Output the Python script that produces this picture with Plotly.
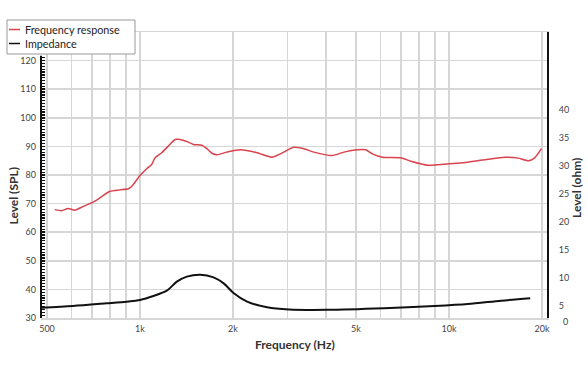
import plotly.graph_objects as go

# ---- data ----
spl_freq = [530, 557, 585, 615, 655, 705, 741, 800, 861, 917, 940, 1000, 1051, 1091, 1119,
            1176, 1235, 1300, 1349, 1418, 1490, 1586, 1647, 1710, 1775, 1911, 2112, 2393,
            2678, 2848, 3147, 3390, 3654, 4188, 4571, 5050, 5377, 5650, 6090, 6987, 7535,
            8534, 9420, 11500, 13360, 15130, 16730, 18040, 18940, 19910]
spl_db = [67.9, 67.5, 68.3, 67.7, 69.0, 70.5, 72.0, 74.3, 74.8, 75.2, 76.0, 79.8, 82.2, 83.7,
          86.0, 87.8, 90.1, 92.4, 92.4, 91.7, 90.7, 90.4, 89.2, 87.6, 87.1, 88.0, 88.8, 87.8,
          86.2, 87.4, 89.7, 89.2, 88.0, 86.8, 88.0, 88.8, 88.8, 87.4, 86.2, 86.0, 84.8,
          83.4, 83.7, 84.5, 85.5, 86.2, 85.9, 85.0, 86.0, 89.2]

imp_freq = [478, 607, 780, 906, 1000, 1105, 1221, 1316, 1418, 1567, 1730, 1866, 2012, 2222,
            2580, 3036, 4000, 6166, 8970, 11500, 14750, 18320]
imp_ohm = [4.64, 4.94, 5.42, 5.72, 6.02, 6.73, 7.69, 9.30, 10.2, 10.55, 10.08, 9.0, 7.22, 5.72,
           4.71, 4.32, 4.25, 4.53, 4.94, 5.30, 5.89, 6.32]

x_grid = [500, 600, 700, 800, 900, 1000, 2000, 3000, 4000, 5000, 6000, 7000, 8000, 9000, 10000, 20000]
x_text = ["500", "", "", "", "", "1k", "2k", "", "", "5k", "", "", "", "", "10k", "20k"]
spl_ticks = [30, 40, 50, 60, 70, 80, 90, 100, 110, 120]
spl_minor = [v for v in range(31, 122) if v % 10 != 0]
ohm_ticks = [5, 10, 15, 20, 25, 30, 35, 40]

RED = "#d8434d"
FONT = "Lato"
W, H = 588, 372
L, T = 41, 32
PW, PH = 506, 286
R, B = W - L - PW, H - T - PH


def px(x):  # window pixel -> paper
    return (x - L) / PW


def py(y):
    return (T + PH - y) / PH


fig = go.Figure()
fig.add_trace(go.Scatter(x=spl_freq, y=spl_db, mode="lines", name="Frequency response",
                         line=dict(color=RED, width=1.5, shape="spline", smoothing=0.6),
                         showlegend=False))
fig.add_trace(go.Scatter(x=imp_freq, y=imp_ohm, mode="lines", name="Impedance", yaxis="y2",
                         line=dict(color="#111111", width=2, shape="spline", smoothing=0.8),
                         showlegend=False))

tickfont = dict(family=FONT, size=9, color="#444444")
titlefont = dict(family=FONT, size=12, color="#333333", weight="bold")

fig.update_layout(
    width=W, height=H, margin=dict(l=L, r=R, t=T, b=B),
    paper_bgcolor="white", plot_bgcolor="white", hovermode=False,
    xaxis=dict(type="log", range=[2.6796, 4.3172], tickmode="array", tickvals=x_grid,
               ticktext=x_text, showgrid=True, gridcolor="#d6d6d6", gridwidth=1.5,
               showline=True, mirror=True, linecolor="#d6d6d6", linewidth=1.5,
               ticks="", tickfont=tickfont, ticklabelstandoff=2, zeroline=False),
    yaxis=dict(range=[30, 130], tickmode="array", tickvals=spl_ticks, showgrid=True,
               gridcolor="#d6d6d6", gridwidth=1.5, showline=False, zeroline=False,
               ticks="inside", ticklen=4, tickwidth=1.5, tickcolor="#111111",
               tickfont=tickfont, ticklabelstandoff=4,
               minor=dict(tickmode="array", tickvals=spl_minor, ticks="inside", ticklen=4,
                          tickwidth=1.2, tickcolor="#111111", showgrid=False)),
    yaxis2=dict(range=[2.794, 54.02], overlaying="y", side="right", tickmode="array",
                tickvals=ohm_ticks, showgrid=False, zeroline=False, showline=True,
                linecolor="#111111", linewidth=2, ticks="", tickfont=tickfont,
                ticklabelstandoff=8),
    showlegend=False,
)

shapes = [
    dict(type="line", xref="paper", yref="y", x0=0, x1=0, y0=30, y1=121.7,
         line=dict(color="#111111", width=2)),
    dict(type="rect", xref="paper", yref="paper", x0=px(7), x1=px(135), y0=py(54), y1=py(20),
         line=dict(color="#999999", width=1), fillcolor="white", layer="above"),
    dict(type="line", xref="paper", yref="paper", x0=px(9), x1=px(20), y0=py(29.5), y1=py(29.5),
         line=dict(color=RED, width=1.5), layer="above"),
    dict(type="line", xref="paper", yref="paper", x0=px(9), x1=px(20), y0=py(43.5), y1=py(43.5),
         line=dict(color="#111111", width=1.5), layer="above"),
]
fig.update_layout(shapes=shapes)

legfont = dict(family=FONT, size=10.8, color="#222222")
annotations = [
    dict(text="Frequency response", xref="paper", yref="paper", x=px(23), y=py(29.5),
         xanchor="left", yanchor="middle", showarrow=False, font=legfont),
    dict(text="Impedance", xref="paper", yref="paper", x=px(23), y=py(43.5),
         xanchor="left", yanchor="middle", showarrow=False, font=legfont),
    dict(text="Frequency (Hz)", xref="paper", yref="paper", x=px(294.7), y=py(344.7),
         xanchor="center", yanchor="middle", showarrow=False, font=titlefont),
    dict(text="Level (SPL)", xref="paper", yref="paper", x=px(12.5), y=py(196), textangle=-90,
         xanchor="center", yanchor="middle", showarrow=False, font=titlefont),
    dict(text="Level (ohm)", xref="paper", yref="paper", x=px(576), y=py(188), textangle=-90,
         xanchor="center", yanchor="middle", showarrow=False, font=titlefont),
    dict(text="0", xref="paper", yref="paper", x=px(565), y=py(321),
         xanchor="center", yanchor="middle", showarrow=False, font=tickfont),
]
fig.update_layout(annotations=annotations)

fig.write_html("out.html", config={"displayModeBar": False, "staticPlot": True},
               post_script="document.body.style.margin='0px';")
